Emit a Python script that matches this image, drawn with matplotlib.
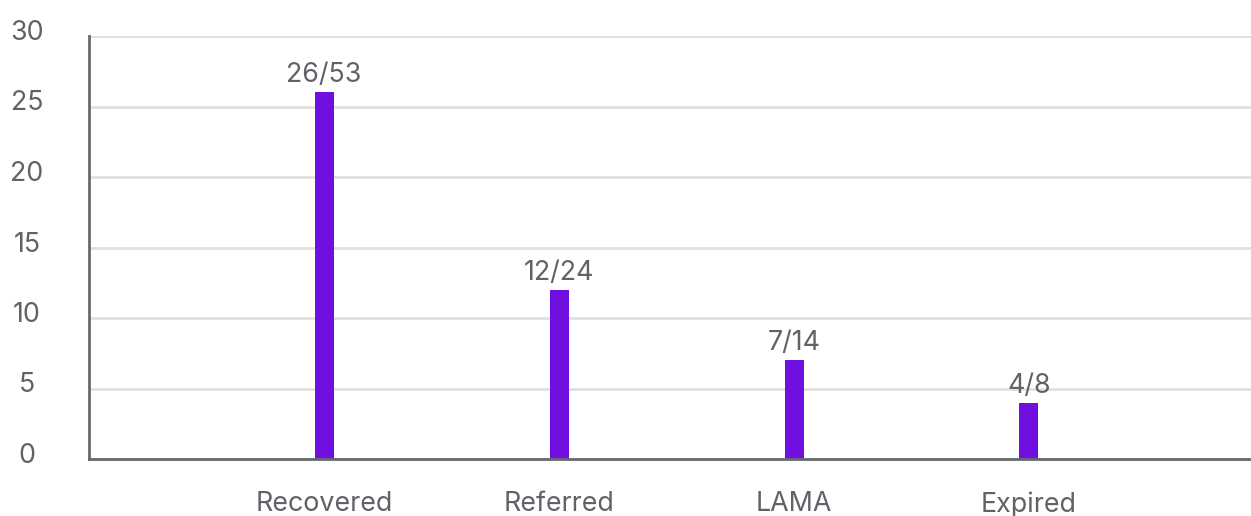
import matplotlib
matplotlib.use("Agg")
import matplotlib.pyplot as plt
import matplotlib.transforms as mtransforms

categories = ["Recovered", "Referred", "LAMA", "Expired"]
values = [26, 12, 7, 4]
labels = ["26/53", "12/24", "7/14", "4/8"]
yticks = [0, 5, 10, 15, 20, 25, 30]

plt.rcParams['font.family'] = ['Inter', 'DejaVu Sans']
TXT = '#5f6368'
FS = 19.3
DPI = 100
fig = plt.figure(figsize=(12.51, 5.16), dpi=DPI)
ax = fig.add_axes([89/1251, 1 - 459/516, 1 - 89/1251, (459 - 36)/516])

pos = list(range(1, len(categories) + 1))
ax.bar(pos, values, width=19/235, color='#6f10e0', zorder=3)
for x, v, l in zip(pos, values, labels):
    ax.annotate(l, (x, v), xytext=(0, 4), textcoords='offset pixels',
                ha='center', va='bottom', fontsize=FS, color=TXT, zorder=4)

ax.set_xlim(0, (1251 - 89) / 235)
ax.set_ylim(0, 30)
ax.set_yticks(yticks)
ax.set_yticklabels([str(t) for t in yticks])
ax.set_xticks(pos)
ax.set_xticklabels(categories)
ax.grid(axis='y', color='#e0e0e0', linewidth=2, zorder=0)
ax.set_axisbelow(True)
for s in ['top', 'right']:
    ax.spines[s].set_visible(False)
for s in ['left', 'bottom']:
    ax.spines[s].set_color('#666a70')
    ax.spines[s].set_linewidth(2)
    ax.spines[s].set_zorder(5)
ax.tick_params(axis='both', length=0, labelsize=FS, labelcolor=TXT)
ax.tick_params(axis='y', pad=62 * 72 / DPI)
ax.tick_params(axis='x', pad=32 * 72 / DPI)
off = mtransforms.ScaledTranslation(0, 6 / DPI, fig.dpi_scale_trans)
for lbl in ax.get_yticklabels():
    lbl.set_ha('center')
    lbl.set_transform(lbl.get_transform() + off)

fig.savefig('out.png', dpi=DPI)
